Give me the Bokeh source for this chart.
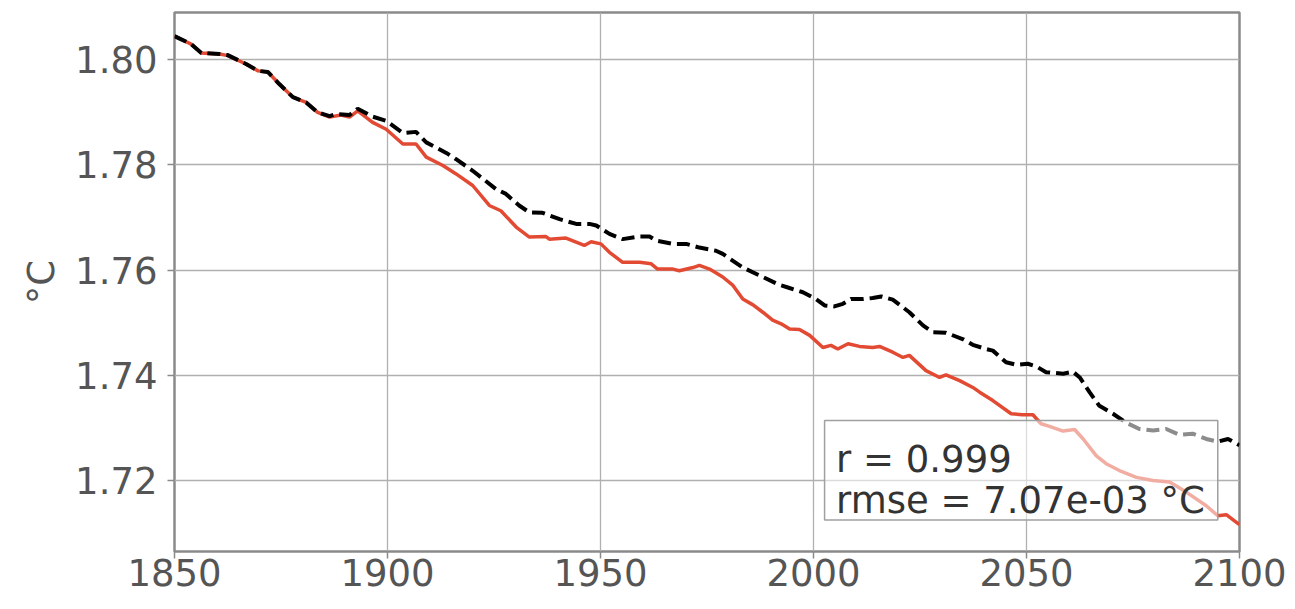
from bokeh.plotting import figure
from bokeh.models import FixedTicker, NumeralTickFormatter, BoxAnnotation, Label, Range1d
from bokeh.embed import file_html
from bokeh.resources import INLINE

# ---- data ----
model_years = [1850, 1853.9, 1856.3, 1860.6, 1862.5, 1866.8, 1869.6, 1871.9, 1874.6, 1877.8,
               1880.9, 1883.6, 1886.4, 1889.1, 1891.1, 1893.0, 1896.5, 1899.7, 1903.6, 1906.7,
               1909.1, 1913.0, 1916.1, 1920.0, 1923.9, 1926.6, 1930.2, 1933.3, 1937.2, 1938.0,
               1941.9, 1946.2, 1947.8, 1950.1, 1952.1, 1955.2, 1959.2, 1961.9, 1963.4, 1967.0,
               1968.5, 1971.7, 1973.2, 1975.6, 1978.7, 1981.1, 1983.4, 1985.8, 1988.1, 1990.4,
               1992.4, 1994.4, 1996.7, 1999.1, 2002.2, 2004.1, 2005.7, 2008.1, 2010.8, 2013.9,
               2015.5, 2018.6, 2021.0, 2022.5, 2026.4, 2029.6, 2031.1, 2034.3, 2037.4, 2039.0,
               2042.1, 2046.4, 2049.1, 2051.5, 2053.4, 2055.4, 2058.6, 2061.3, 2063.3, 2066.4,
               2068.7, 2071.8, 2075.8, 2079.7, 2083.6, 2087.5, 2092.2, 2094.9, 2096.9, 2099.2,
               2100]
model_vals = [1.8045, 1.8030, 1.8013, 1.8011, 1.8008, 1.7992, 1.7979, 1.7977, 1.7954, 1.7929,
              1.7919, 1.7900, 1.7891, 1.7895, 1.7891, 1.7903, 1.7881, 1.7868, 1.7840, 1.7840,
              1.7815, 1.7799, 1.7783, 1.7761, 1.7723, 1.7713, 1.7682, 1.7663, 1.7664, 1.7659,
              1.7661, 1.7647, 1.7654, 1.7650, 1.7634, 1.7615, 1.7615, 1.7612, 1.7602, 1.7602,
              1.7599, 1.7605, 1.7609, 1.7602, 1.7587, 1.7571, 1.7545, 1.7534, 1.7520, 1.7505,
              1.7498, 1.7488, 1.7487, 1.7476, 1.7453, 1.7457, 1.7450, 1.7460, 1.7455, 1.7453,
              1.7455, 1.7444, 1.7434, 1.7438, 1.7409, 1.7396, 1.7401, 1.7390, 1.7377, 1.7368,
              1.7352, 1.7327, 1.7325, 1.7325, 1.7308, 1.7303, 1.7294, 1.7297, 1.7279, 1.7247,
              1.7232, 1.7219, 1.7206, 1.7200, 1.7197, 1.7178, 1.7152, 1.7133, 1.7135, 1.7121,
              1.7116]

ref_years = [1850, 1853.9, 1856.3, 1860.6, 1862.5, 1866.8, 1869.6, 1871.9, 1874.6, 1877.8,
             1880.9, 1883.6, 1886.4, 1888.0, 1891.1, 1893.0, 1896.5, 1899.7, 1903.6, 1906.7,
             1909.1, 1913.8, 1916.1, 1920.0, 1925.5, 1927.8, 1930.9, 1933.3, 1936.4, 1940.4,
             1944.3, 1947.4, 1949.0, 1952.1, 1955.2, 1959.2, 1961.5, 1963.1, 1967.0, 1970.1,
             1973.2, 1977.1, 1978.7, 1983.4, 1988.1, 1992.0, 1994.0, 1997.5, 2000.6, 2002.6,
             2004.9, 2006.9, 2008.8, 2011.6, 2013.9, 2015.9, 2018.6, 2022.5, 2025.7, 2028.0,
             2031.1, 2035.0, 2037.4, 2040.5, 2042.1, 2045.2, 2047.6, 2050.3, 2052.3, 2054.6,
             2058.6, 2060.9, 2062.5, 2064.8, 2067.1, 2070.3, 2073.4, 2076.5, 2079.7, 2082.8,
             2085.9, 2089.0, 2092.2, 2094.9, 2097.3, 2100]
ref_vals = [1.8045, 1.8030, 1.8013, 1.8011, 1.8009, 1.7992, 1.7979, 1.7977, 1.7954, 1.7929,
            1.7919, 1.7900, 1.7893, 1.7897, 1.7895, 1.7907, 1.7892, 1.7884, 1.7861, 1.7863,
            1.7843, 1.7823, 1.7811, 1.7789, 1.7754, 1.7745, 1.7723, 1.7710, 1.7709, 1.7697,
            1.7688, 1.7688, 1.7685, 1.7669, 1.7659, 1.7664, 1.7664, 1.7656, 1.7650, 1.7650,
            1.7643, 1.7637, 1.7631, 1.7605, 1.7587, 1.7572, 1.7567, 1.7558, 1.7545, 1.7533,
            1.7531, 1.7536, 1.7545, 1.7545, 1.7547, 1.7550, 1.7544, 1.7520, 1.7495, 1.7482,
            1.7481, 1.7469, 1.7458, 1.7450, 1.7447, 1.7425, 1.7420, 1.7422, 1.7417, 1.7406,
            1.7403, 1.7407, 1.7396, 1.7368, 1.7342, 1.7327, 1.7310, 1.7298, 1.7295, 1.7298,
            1.7287, 1.7289, 1.7279, 1.7274, 1.7279, 1.7267]

x_ticks = [1850, 1900, 1950, 2000, 2050, 2100]
y_ticks = [1.72, 1.74, 1.76, 1.78, 1.80]
stats_lines = ["r = 0.999", "rmse = 7.07e-03 °C"]
y_label = "°C"

FONT = "DejaVu Sans"
GRAY_TXT = "#555555"

p = figure(width=1289, height=600, output_backend="svg", toolbar_location=None,
           x_range=Range1d(1850, 2100), y_range=Range1d(1.7065, 1.8090),
           min_border_left=174, min_border_right=50, min_border_top=12, min_border_bottom=49)

p.background_fill_color = "white"
p.border_fill_color = "white"
p.outline_line_color = "#8a8a8a"
p.outline_line_width = 2.5

for ax in (p.xaxis[0], p.yaxis[0]):
    ax.axis_line_color = None
    ax.major_tick_line_color = "#8a8a8a"
    ax.major_tick_line_width = 1.5
    ax.major_tick_out = 7
    ax.major_tick_in = 0
    ax.minor_tick_line_color = None
    ax.major_label_text_font = FONT
    ax.major_label_text_font_size = "37px"
    ax.major_label_text_color = GRAY_TXT

p.xaxis.ticker = FixedTicker(ticks=x_ticks)
p.yaxis.ticker = FixedTicker(ticks=y_ticks)
p.yaxis.formatter = NumeralTickFormatter(format="0.00")
p.xaxis.major_label_standoff = 0
p.yaxis.major_label_standoff = 10

p.yaxis.axis_label = y_label
p.yaxis.axis_label_text_font = FONT
p.yaxis.axis_label_text_font_size = "37px"
p.yaxis.axis_label_text_font_style = "normal"
p.yaxis.axis_label_text_color = GRAY_TXT
p.yaxis.axis_label_standoff = 9

p.xgrid.ticker = FixedTicker(ticks=x_ticks)
p.ygrid.ticker = FixedTicker(ticks=y_ticks)
p.grid.grid_line_color = "#b0b0b0"
p.grid.grid_line_width = 1.3

p.line(model_years, model_vals, line_color="#e34a33", line_width=3.5)
p.line(ref_years, ref_vals, line_color="black", line_width=4, line_dash="13 6")

box = BoxAnnotation(left=2002.6, right=2094.9, bottom=1.7125, top=1.7314,
                    fill_color="white", fill_alpha=0.55,
                    line_color="#a0a0a0", line_alpha=1.0, line_width=1.5)
p.add_layout(box)

p.add_layout(Label(x=2005.3, y=1.72393, text=stats_lines[0], text_font=FONT,
                   text_font_size="37px", text_color="#333333", text_baseline="alphabetic"))
p.add_layout(Label(x=2005.3, y=1.71620, text=stats_lines[1], text_font=FONT,
                   text_font_size="37px", text_color="#333333", text_baseline="alphabetic"))

open("out.html", "w").write(file_html(p, INLINE))
